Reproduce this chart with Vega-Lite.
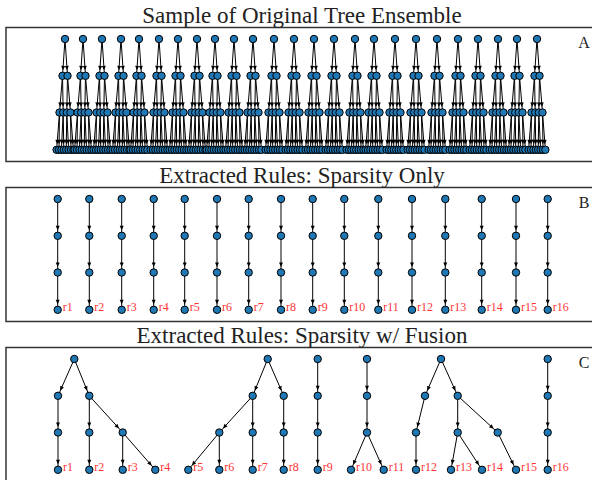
{
"$schema": "https://vega.github.io/schema/vega-lite/v6.json",
"background": "white",
"padding": {"left": 5, "top": 3.5, "right": 0, "bottom": 0},
"spacing": 1,
"config": {
  "view": {"stroke": "#333", "strokeWidth": 1.5},
  "title": {"font": "Liberation Serif", "fontSize": 23, "fontWeight": "normal", "color": "#222", "anchor": "middle"}
},
"datasets": {
"Ar": [{"x":64,"y":11.5},{"x":82,"y":11.5},{"x":101,"y":11.5},{"x":120,"y":11.5},{"x":138,"y":11.5},{"x":158,"y":11.5},{"x":177,"y":11.5},{"x":196,"y":11.5},{"x":214,"y":11.5},{"x":233,"y":11.5},{"x":252,"y":11.5},{"x":273,"y":11.5},{"x":293,"y":11.5},{"x":313,"y":11.5},{"x":333,"y":11.5},{"x":354,"y":11.5},{"x":373,"y":11.5},{"x":394,"y":11.5},{"x":415,"y":11.5},{"x":436,"y":11.5},{"x":457,"y":11.5},{"x":477,"y":11.5},{"x":497,"y":11.5},{"x":516,"y":11.5},{"x":536,"y":11.5}],
"Ae": [
{"x":64,"y":11.5,"x2":61.5,"y2":48.3},{"x":64,"y":11.5,"x2":66.5,"y2":48.3},{"x":61.5,"y":48.3,"x2":58.5,"y2":85},{"x":61.5,"y":48.3,"x2":62.2,"y2":85},{"x":66.5,"y":48.3,"x2":65.8,"y2":85},{"x":66.5,"y":48.3,"x2":69.5,"y2":85},{"x":58.5,"y":85,"x2":55.6,"y2":122.3},{"x":58.5,"y":85,"x2":58,"y2":122.3},{"x":62.2,"y":85,"x2":60.4,"y2":122.3},{"x":62.2,"y":85,"x2":62.8,"y2":122.3},{"x":65.8,"y":85,"x2":65.2,"y2":122.3},{"x":65.8,"y":85,"x2":67.6,"y2":122.3},{"x":69.5,"y":85,"x2":70,"y2":122.3},{"x":69.5,"y":85,"x2":72.4,"y2":122.3},
{"x":82,"y":11.5,"x2":79.5,"y2":48.3},{"x":82,"y":11.5,"x2":84.5,"y2":48.3},{"x":79.5,"y":48.3,"x2":76.5,"y2":85},{"x":79.5,"y":48.3,"x2":80.2,"y2":85},{"x":84.5,"y":48.3,"x2":83.8,"y2":85},{"x":84.5,"y":48.3,"x2":87.5,"y2":85},{"x":76.5,"y":85,"x2":73.6,"y2":122.3},{"x":76.5,"y":85,"x2":76,"y2":122.3},{"x":80.2,"y":85,"x2":78.4,"y2":122.3},{"x":80.2,"y":85,"x2":80.8,"y2":122.3},{"x":83.8,"y":85,"x2":83.2,"y2":122.3},{"x":83.8,"y":85,"x2":85.6,"y2":122.3},{"x":87.5,"y":85,"x2":88,"y2":122.3},{"x":87.5,"y":85,"x2":90.4,"y2":122.3},
{"x":101,"y":11.5,"x2":98.5,"y2":48.3},{"x":101,"y":11.5,"x2":103.5,"y2":48.3},{"x":98.5,"y":48.3,"x2":95.5,"y2":85},{"x":98.5,"y":48.3,"x2":99.2,"y2":85},{"x":103.5,"y":48.3,"x2":102.8,"y2":85},{"x":103.5,"y":48.3,"x2":106.5,"y2":85},{"x":95.5,"y":85,"x2":92.6,"y2":122.3},{"x":95.5,"y":85,"x2":95,"y2":122.3},{"x":99.2,"y":85,"x2":97.4,"y2":122.3},{"x":99.2,"y":85,"x2":99.8,"y2":122.3},{"x":102.8,"y":85,"x2":102.2,"y2":122.3},{"x":102.8,"y":85,"x2":104.6,"y2":122.3},{"x":106.5,"y":85,"x2":107,"y2":122.3},{"x":106.5,"y":85,"x2":109.4,"y2":122.3},
{"x":120,"y":11.5,"x2":117.5,"y2":48.3},{"x":120,"y":11.5,"x2":122.5,"y2":48.3},{"x":117.5,"y":48.3,"x2":114.5,"y2":85},{"x":117.5,"y":48.3,"x2":118.2,"y2":85},{"x":122.5,"y":48.3,"x2":121.8,"y2":85},{"x":122.5,"y":48.3,"x2":125.5,"y2":85},{"x":114.5,"y":85,"x2":111.6,"y2":122.3},{"x":114.5,"y":85,"x2":114,"y2":122.3},{"x":118.2,"y":85,"x2":116.4,"y2":122.3},{"x":118.2,"y":85,"x2":118.8,"y2":122.3},{"x":121.8,"y":85,"x2":121.2,"y2":122.3},{"x":121.8,"y":85,"x2":123.6,"y2":122.3},{"x":125.5,"y":85,"x2":126,"y2":122.3},{"x":125.5,"y":85,"x2":128.4,"y2":122.3},
{"x":138,"y":11.5,"x2":135.5,"y2":48.3},{"x":138,"y":11.5,"x2":140.5,"y2":48.3},{"x":135.5,"y":48.3,"x2":132.5,"y2":85},{"x":135.5,"y":48.3,"x2":136.2,"y2":85},{"x":140.5,"y":48.3,"x2":139.8,"y2":85},{"x":140.5,"y":48.3,"x2":143.5,"y2":85},{"x":132.5,"y":85,"x2":129.6,"y2":122.3},{"x":132.5,"y":85,"x2":132,"y2":122.3},{"x":136.2,"y":85,"x2":134.4,"y2":122.3},{"x":136.2,"y":85,"x2":136.8,"y2":122.3},{"x":139.8,"y":85,"x2":139.2,"y2":122.3},{"x":139.8,"y":85,"x2":141.6,"y2":122.3},{"x":143.5,"y":85,"x2":144,"y2":122.3},{"x":143.5,"y":85,"x2":146.4,"y2":122.3},
{"x":158,"y":11.5,"x2":155.5,"y2":48.3},{"x":158,"y":11.5,"x2":160.5,"y2":48.3},{"x":155.5,"y":48.3,"x2":152.5,"y2":85},{"x":155.5,"y":48.3,"x2":156.2,"y2":85},{"x":160.5,"y":48.3,"x2":159.8,"y2":85},{"x":160.5,"y":48.3,"x2":163.5,"y2":85},{"x":152.5,"y":85,"x2":149.6,"y2":122.3},{"x":152.5,"y":85,"x2":152,"y2":122.3},{"x":156.2,"y":85,"x2":154.4,"y2":122.3},{"x":156.2,"y":85,"x2":156.8,"y2":122.3},{"x":159.8,"y":85,"x2":159.2,"y2":122.3},{"x":159.8,"y":85,"x2":161.6,"y2":122.3},{"x":163.5,"y":85,"x2":164,"y2":122.3},{"x":163.5,"y":85,"x2":166.4,"y2":122.3},
{"x":177,"y":11.5,"x2":174.5,"y2":48.3},{"x":177,"y":11.5,"x2":179.5,"y2":48.3},{"x":174.5,"y":48.3,"x2":171.5,"y2":85},{"x":174.5,"y":48.3,"x2":175.2,"y2":85},{"x":179.5,"y":48.3,"x2":178.8,"y2":85},{"x":179.5,"y":48.3,"x2":182.5,"y2":85},{"x":171.5,"y":85,"x2":168.6,"y2":122.3},{"x":171.5,"y":85,"x2":171,"y2":122.3},{"x":175.2,"y":85,"x2":173.4,"y2":122.3},{"x":175.2,"y":85,"x2":175.8,"y2":122.3},{"x":178.8,"y":85,"x2":178.2,"y2":122.3},{"x":178.8,"y":85,"x2":180.6,"y2":122.3},{"x":182.5,"y":85,"x2":183,"y2":122.3},{"x":182.5,"y":85,"x2":185.4,"y2":122.3},
{"x":196,"y":11.5,"x2":193.5,"y2":48.3},{"x":196,"y":11.5,"x2":198.5,"y2":48.3},{"x":193.5,"y":48.3,"x2":190.5,"y2":85},{"x":193.5,"y":48.3,"x2":194.2,"y2":85},{"x":198.5,"y":48.3,"x2":197.8,"y2":85},{"x":198.5,"y":48.3,"x2":201.5,"y2":85},{"x":190.5,"y":85,"x2":187.6,"y2":122.3},{"x":190.5,"y":85,"x2":190,"y2":122.3},{"x":194.2,"y":85,"x2":192.4,"y2":122.3},{"x":194.2,"y":85,"x2":194.8,"y2":122.3},{"x":197.8,"y":85,"x2":197.2,"y2":122.3},{"x":197.8,"y":85,"x2":199.6,"y2":122.3},{"x":201.5,"y":85,"x2":202,"y2":122.3},{"x":201.5,"y":85,"x2":204.4,"y2":122.3},
{"x":214,"y":11.5,"x2":211.5,"y2":48.3},{"x":214,"y":11.5,"x2":216.5,"y2":48.3},{"x":211.5,"y":48.3,"x2":208.5,"y2":85},{"x":211.5,"y":48.3,"x2":212.2,"y2":85},{"x":216.5,"y":48.3,"x2":215.8,"y2":85},{"x":216.5,"y":48.3,"x2":219.5,"y2":85},{"x":208.5,"y":85,"x2":205.6,"y2":122.3},{"x":208.5,"y":85,"x2":208,"y2":122.3},{"x":212.2,"y":85,"x2":210.4,"y2":122.3},{"x":212.2,"y":85,"x2":212.8,"y2":122.3},{"x":215.8,"y":85,"x2":215.2,"y2":122.3},{"x":215.8,"y":85,"x2":217.6,"y2":122.3},{"x":219.5,"y":85,"x2":220,"y2":122.3},{"x":219.5,"y":85,"x2":222.4,"y2":122.3},
{"x":233,"y":11.5,"x2":230.5,"y2":48.3},{"x":233,"y":11.5,"x2":235.5,"y2":48.3},{"x":230.5,"y":48.3,"x2":227.5,"y2":85},{"x":230.5,"y":48.3,"x2":231.2,"y2":85},{"x":235.5,"y":48.3,"x2":234.8,"y2":85},{"x":235.5,"y":48.3,"x2":238.5,"y2":85},{"x":227.5,"y":85,"x2":224.6,"y2":122.3},{"x":227.5,"y":85,"x2":227,"y2":122.3},{"x":231.2,"y":85,"x2":229.4,"y2":122.3},{"x":231.2,"y":85,"x2":231.8,"y2":122.3},{"x":234.8,"y":85,"x2":234.2,"y2":122.3},{"x":234.8,"y":85,"x2":236.6,"y2":122.3},{"x":238.5,"y":85,"x2":239,"y2":122.3},{"x":238.5,"y":85,"x2":241.4,"y2":122.3},
{"x":252,"y":11.5,"x2":249.5,"y2":48.3},{"x":252,"y":11.5,"x2":254.5,"y2":48.3},{"x":249.5,"y":48.3,"x2":246.5,"y2":85},{"x":249.5,"y":48.3,"x2":250.2,"y2":85},{"x":254.5,"y":48.3,"x2":253.8,"y2":85},{"x":254.5,"y":48.3,"x2":257.5,"y2":85},{"x":246.5,"y":85,"x2":243.6,"y2":122.3},{"x":246.5,"y":85,"x2":246,"y2":122.3},{"x":250.2,"y":85,"x2":248.4,"y2":122.3},{"x":250.2,"y":85,"x2":250.8,"y2":122.3},{"x":253.8,"y":85,"x2":253.2,"y2":122.3},{"x":253.8,"y":85,"x2":255.6,"y2":122.3},{"x":257.5,"y":85,"x2":258,"y2":122.3},{"x":257.5,"y":85,"x2":260.4,"y2":122.3},
{"x":273,"y":11.5,"x2":270.5,"y2":48.3},{"x":273,"y":11.5,"x2":275.5,"y2":48.3},{"x":270.5,"y":48.3,"x2":267.5,"y2":85},{"x":270.5,"y":48.3,"x2":271.2,"y2":85},{"x":275.5,"y":48.3,"x2":274.8,"y2":85},{"x":275.5,"y":48.3,"x2":278.5,"y2":85},{"x":267.5,"y":85,"x2":264.6,"y2":122.3},{"x":267.5,"y":85,"x2":267,"y2":122.3},{"x":271.2,"y":85,"x2":269.4,"y2":122.3},{"x":271.2,"y":85,"x2":271.8,"y2":122.3},{"x":274.8,"y":85,"x2":274.2,"y2":122.3},{"x":274.8,"y":85,"x2":276.6,"y2":122.3},{"x":278.5,"y":85,"x2":279,"y2":122.3},{"x":278.5,"y":85,"x2":281.4,"y2":122.3},
{"x":293,"y":11.5,"x2":290.5,"y2":48.3},{"x":293,"y":11.5,"x2":295.5,"y2":48.3},{"x":290.5,"y":48.3,"x2":287.5,"y2":85},{"x":290.5,"y":48.3,"x2":291.2,"y2":85},{"x":295.5,"y":48.3,"x2":294.8,"y2":85},{"x":295.5,"y":48.3,"x2":298.5,"y2":85},{"x":287.5,"y":85,"x2":284.6,"y2":122.3},{"x":287.5,"y":85,"x2":287,"y2":122.3},{"x":291.2,"y":85,"x2":289.4,"y2":122.3},{"x":291.2,"y":85,"x2":291.8,"y2":122.3},{"x":294.8,"y":85,"x2":294.2,"y2":122.3},{"x":294.8,"y":85,"x2":296.6,"y2":122.3},{"x":298.5,"y":85,"x2":299,"y2":122.3},{"x":298.5,"y":85,"x2":301.4,"y2":122.3},
{"x":313,"y":11.5,"x2":310.5,"y2":48.3},{"x":313,"y":11.5,"x2":315.5,"y2":48.3},{"x":310.5,"y":48.3,"x2":307.5,"y2":85},{"x":310.5,"y":48.3,"x2":311.2,"y2":85},{"x":315.5,"y":48.3,"x2":314.8,"y2":85},{"x":315.5,"y":48.3,"x2":318.5,"y2":85},{"x":307.5,"y":85,"x2":304.6,"y2":122.3},{"x":307.5,"y":85,"x2":307,"y2":122.3},{"x":311.2,"y":85,"x2":309.4,"y2":122.3},{"x":311.2,"y":85,"x2":311.8,"y2":122.3},{"x":314.8,"y":85,"x2":314.2,"y2":122.3},{"x":314.8,"y":85,"x2":316.6,"y2":122.3},{"x":318.5,"y":85,"x2":319,"y2":122.3},{"x":318.5,"y":85,"x2":321.4,"y2":122.3},
{"x":333,"y":11.5,"x2":330.5,"y2":48.3},{"x":333,"y":11.5,"x2":335.5,"y2":48.3},{"x":330.5,"y":48.3,"x2":327.5,"y2":85},{"x":330.5,"y":48.3,"x2":331.2,"y2":85},{"x":335.5,"y":48.3,"x2":334.8,"y2":85},{"x":335.5,"y":48.3,"x2":338.5,"y2":85},{"x":327.5,"y":85,"x2":324.6,"y2":122.3},{"x":327.5,"y":85,"x2":327,"y2":122.3},{"x":331.2,"y":85,"x2":329.4,"y2":122.3},{"x":331.2,"y":85,"x2":331.8,"y2":122.3},{"x":334.8,"y":85,"x2":334.2,"y2":122.3},{"x":334.8,"y":85,"x2":336.6,"y2":122.3},{"x":338.5,"y":85,"x2":339,"y2":122.3},{"x":338.5,"y":85,"x2":341.4,"y2":122.3},
{"x":354,"y":11.5,"x2":351.5,"y2":48.3},{"x":354,"y":11.5,"x2":356.5,"y2":48.3},{"x":351.5,"y":48.3,"x2":348.5,"y2":85},{"x":351.5,"y":48.3,"x2":352.2,"y2":85},{"x":356.5,"y":48.3,"x2":355.8,"y2":85},{"x":356.5,"y":48.3,"x2":359.5,"y2":85},{"x":348.5,"y":85,"x2":345.6,"y2":122.3},{"x":348.5,"y":85,"x2":348,"y2":122.3},{"x":352.2,"y":85,"x2":350.4,"y2":122.3},{"x":352.2,"y":85,"x2":352.8,"y2":122.3},{"x":355.8,"y":85,"x2":355.2,"y2":122.3},{"x":355.8,"y":85,"x2":357.6,"y2":122.3},{"x":359.5,"y":85,"x2":360,"y2":122.3},{"x":359.5,"y":85,"x2":362.4,"y2":122.3},
{"x":373,"y":11.5,"x2":370.5,"y2":48.3},{"x":373,"y":11.5,"x2":375.5,"y2":48.3},{"x":370.5,"y":48.3,"x2":367.5,"y2":85},{"x":370.5,"y":48.3,"x2":371.2,"y2":85},{"x":375.5,"y":48.3,"x2":374.8,"y2":85},{"x":375.5,"y":48.3,"x2":378.5,"y2":85},{"x":367.5,"y":85,"x2":364.6,"y2":122.3},{"x":367.5,"y":85,"x2":367,"y2":122.3},{"x":371.2,"y":85,"x2":369.4,"y2":122.3},{"x":371.2,"y":85,"x2":371.8,"y2":122.3},{"x":374.8,"y":85,"x2":374.2,"y2":122.3},{"x":374.8,"y":85,"x2":376.6,"y2":122.3},{"x":378.5,"y":85,"x2":379,"y2":122.3},{"x":378.5,"y":85,"x2":381.4,"y2":122.3},
{"x":394,"y":11.5,"x2":391.5,"y2":48.3},{"x":394,"y":11.5,"x2":396.5,"y2":48.3},{"x":391.5,"y":48.3,"x2":388.5,"y2":85},{"x":391.5,"y":48.3,"x2":392.2,"y2":85},{"x":396.5,"y":48.3,"x2":395.8,"y2":85},{"x":396.5,"y":48.3,"x2":399.5,"y2":85},{"x":388.5,"y":85,"x2":385.6,"y2":122.3},{"x":388.5,"y":85,"x2":388,"y2":122.3},{"x":392.2,"y":85,"x2":390.4,"y2":122.3},{"x":392.2,"y":85,"x2":392.8,"y2":122.3},{"x":395.8,"y":85,"x2":395.2,"y2":122.3},{"x":395.8,"y":85,"x2":397.6,"y2":122.3},{"x":399.5,"y":85,"x2":400,"y2":122.3},{"x":399.5,"y":85,"x2":402.4,"y2":122.3},
{"x":415,"y":11.5,"x2":412.5,"y2":48.3},{"x":415,"y":11.5,"x2":417.5,"y2":48.3},{"x":412.5,"y":48.3,"x2":409.5,"y2":85},{"x":412.5,"y":48.3,"x2":413.2,"y2":85},{"x":417.5,"y":48.3,"x2":416.8,"y2":85},{"x":417.5,"y":48.3,"x2":420.5,"y2":85},{"x":409.5,"y":85,"x2":406.6,"y2":122.3},{"x":409.5,"y":85,"x2":409,"y2":122.3},{"x":413.2,"y":85,"x2":411.4,"y2":122.3},{"x":413.2,"y":85,"x2":413.8,"y2":122.3},{"x":416.8,"y":85,"x2":416.2,"y2":122.3},{"x":416.8,"y":85,"x2":418.6,"y2":122.3},{"x":420.5,"y":85,"x2":421,"y2":122.3},{"x":420.5,"y":85,"x2":423.4,"y2":122.3},
{"x":436,"y":11.5,"x2":433.5,"y2":48.3},{"x":436,"y":11.5,"x2":438.5,"y2":48.3},{"x":433.5,"y":48.3,"x2":430.5,"y2":85},{"x":433.5,"y":48.3,"x2":434.2,"y2":85},{"x":438.5,"y":48.3,"x2":437.8,"y2":85},{"x":438.5,"y":48.3,"x2":441.5,"y2":85},{"x":430.5,"y":85,"x2":427.6,"y2":122.3},{"x":430.5,"y":85,"x2":430,"y2":122.3},{"x":434.2,"y":85,"x2":432.4,"y2":122.3},{"x":434.2,"y":85,"x2":434.8,"y2":122.3},{"x":437.8,"y":85,"x2":437.2,"y2":122.3},{"x":437.8,"y":85,"x2":439.6,"y2":122.3},{"x":441.5,"y":85,"x2":442,"y2":122.3},{"x":441.5,"y":85,"x2":444.4,"y2":122.3},
{"x":457,"y":11.5,"x2":454.5,"y2":48.3},{"x":457,"y":11.5,"x2":459.5,"y2":48.3},{"x":454.5,"y":48.3,"x2":451.5,"y2":85},{"x":454.5,"y":48.3,"x2":455.2,"y2":85},{"x":459.5,"y":48.3,"x2":458.8,"y2":85},{"x":459.5,"y":48.3,"x2":462.5,"y2":85},{"x":451.5,"y":85,"x2":448.6,"y2":122.3},{"x":451.5,"y":85,"x2":451,"y2":122.3},{"x":455.2,"y":85,"x2":453.4,"y2":122.3},{"x":455.2,"y":85,"x2":455.8,"y2":122.3},{"x":458.8,"y":85,"x2":458.2,"y2":122.3},{"x":458.8,"y":85,"x2":460.6,"y2":122.3},{"x":462.5,"y":85,"x2":463,"y2":122.3},{"x":462.5,"y":85,"x2":465.4,"y2":122.3},
{"x":477,"y":11.5,"x2":474.5,"y2":48.3},{"x":477,"y":11.5,"x2":479.5,"y2":48.3},{"x":474.5,"y":48.3,"x2":471.5,"y2":85},{"x":474.5,"y":48.3,"x2":475.2,"y2":85},{"x":479.5,"y":48.3,"x2":478.8,"y2":85},{"x":479.5,"y":48.3,"x2":482.5,"y2":85},{"x":471.5,"y":85,"x2":468.6,"y2":122.3},{"x":471.5,"y":85,"x2":471,"y2":122.3},{"x":475.2,"y":85,"x2":473.4,"y2":122.3},{"x":475.2,"y":85,"x2":475.8,"y2":122.3},{"x":478.8,"y":85,"x2":478.2,"y2":122.3},{"x":478.8,"y":85,"x2":480.6,"y2":122.3},{"x":482.5,"y":85,"x2":483,"y2":122.3},{"x":482.5,"y":85,"x2":485.4,"y2":122.3},
{"x":497,"y":11.5,"x2":494.5,"y2":48.3},{"x":497,"y":11.5,"x2":499.5,"y2":48.3},{"x":494.5,"y":48.3,"x2":491.5,"y2":85},{"x":494.5,"y":48.3,"x2":495.2,"y2":85},{"x":499.5,"y":48.3,"x2":498.8,"y2":85},{"x":499.5,"y":48.3,"x2":502.5,"y2":85},{"x":491.5,"y":85,"x2":488.6,"y2":122.3},{"x":491.5,"y":85,"x2":491,"y2":122.3},{"x":495.2,"y":85,"x2":493.4,"y2":122.3},{"x":495.2,"y":85,"x2":495.8,"y2":122.3},{"x":498.8,"y":85,"x2":498.2,"y2":122.3},{"x":498.8,"y":85,"x2":500.6,"y2":122.3},{"x":502.5,"y":85,"x2":503,"y2":122.3},{"x":502.5,"y":85,"x2":505.4,"y2":122.3},
{"x":516,"y":11.5,"x2":513.5,"y2":48.3},{"x":516,"y":11.5,"x2":518.5,"y2":48.3},{"x":513.5,"y":48.3,"x2":510.5,"y2":85},{"x":513.5,"y":48.3,"x2":514.2,"y2":85},{"x":518.5,"y":48.3,"x2":517.8,"y2":85},{"x":518.5,"y":48.3,"x2":521.5,"y2":85},{"x":510.5,"y":85,"x2":507.6,"y2":122.3},{"x":510.5,"y":85,"x2":510,"y2":122.3},{"x":514.2,"y":85,"x2":512.4,"y2":122.3},{"x":514.2,"y":85,"x2":514.8,"y2":122.3},{"x":517.8,"y":85,"x2":517.2,"y2":122.3},{"x":517.8,"y":85,"x2":519.6,"y2":122.3},{"x":521.5,"y":85,"x2":522,"y2":122.3},{"x":521.5,"y":85,"x2":524.4,"y2":122.3},
{"x":536,"y":11.5,"x2":533.5,"y2":48.3},{"x":536,"y":11.5,"x2":538.5,"y2":48.3},{"x":533.5,"y":48.3,"x2":530.5,"y2":85},{"x":533.5,"y":48.3,"x2":534.2,"y2":85},{"x":538.5,"y":48.3,"x2":537.8,"y2":85},{"x":538.5,"y":48.3,"x2":541.5,"y2":85},{"x":530.5,"y":85,"x2":527.6,"y2":122.3},{"x":530.5,"y":85,"x2":530,"y2":122.3},{"x":534.2,"y":85,"x2":532.4,"y2":122.3},{"x":534.2,"y":85,"x2":534.8,"y2":122.3},{"x":537.8,"y":85,"x2":537.2,"y2":122.3},{"x":537.8,"y":85,"x2":539.6,"y2":122.3},{"x":541.5,"y":85,"x2":542,"y2":122.3},{"x":541.5,"y":85,"x2":544.4,"y2":122.3}
],
"Br": [{"x":56.7,"y":11.5},{"x":88.3,"y":11.5},{"x":120.7,"y":11.5},{"x":152.7,"y":11.5},{"x":183.7,"y":11.5},{"x":216,"y":11.5},{"x":247.7,"y":11.5},{"x":280,"y":11.5},{"x":311.7,"y":11.5},{"x":343.3,"y":11.5},{"x":377.3,"y":11.5},{"x":411,"y":11.5},{"x":444.3,"y":11.5},{"x":480.7,"y":11.5},{"x":515,"y":11.5},{"x":546.7,"y":11.5}],
"Be": [
{"x":56.7,"y":11.5,"x2":56.7,"y2":48.3},{"x":56.7,"y":48.3,"x2":56.7,"y2":85},{"x":56.7,"y":85,"x2":56.7,"y2":122.3,"t":"r1"},
{"x":88.3,"y":11.5,"x2":88.3,"y2":48.3},{"x":88.3,"y":48.3,"x2":88.3,"y2":85},{"x":88.3,"y":85,"x2":88.3,"y2":122.3,"t":"r2"},
{"x":120.7,"y":11.5,"x2":120.7,"y2":48.3},{"x":120.7,"y":48.3,"x2":120.7,"y2":85},{"x":120.7,"y":85,"x2":120.7,"y2":122.3,"t":"r3"},
{"x":152.7,"y":11.5,"x2":152.7,"y2":48.3},{"x":152.7,"y":48.3,"x2":152.7,"y2":85},{"x":152.7,"y":85,"x2":152.7,"y2":122.3,"t":"r4"},
{"x":183.7,"y":11.5,"x2":183.7,"y2":48.3},{"x":183.7,"y":48.3,"x2":183.7,"y2":85},{"x":183.7,"y":85,"x2":183.7,"y2":122.3,"t":"r5"},
{"x":216,"y":11.5,"x2":216,"y2":48.3},{"x":216,"y":48.3,"x2":216,"y2":85},{"x":216,"y":85,"x2":216,"y2":122.3,"t":"r6"},
{"x":247.7,"y":11.5,"x2":247.7,"y2":48.3},{"x":247.7,"y":48.3,"x2":247.7,"y2":85},{"x":247.7,"y":85,"x2":247.7,"y2":122.3,"t":"r7"},
{"x":280,"y":11.5,"x2":280,"y2":48.3},{"x":280,"y":48.3,"x2":280,"y2":85},{"x":280,"y":85,"x2":280,"y2":122.3,"t":"r8"},
{"x":311.7,"y":11.5,"x2":311.7,"y2":48.3},{"x":311.7,"y":48.3,"x2":311.7,"y2":85},{"x":311.7,"y":85,"x2":311.7,"y2":122.3,"t":"r9"},
{"x":343.3,"y":11.5,"x2":343.3,"y2":48.3},{"x":343.3,"y":48.3,"x2":343.3,"y2":85},{"x":343.3,"y":85,"x2":343.3,"y2":122.3,"t":"r10"},
{"x":377.3,"y":11.5,"x2":377.3,"y2":48.3},{"x":377.3,"y":48.3,"x2":377.3,"y2":85},{"x":377.3,"y":85,"x2":377.3,"y2":122.3,"t":"r11"},
{"x":411,"y":11.5,"x2":411,"y2":48.3},{"x":411,"y":48.3,"x2":411,"y2":85},{"x":411,"y":85,"x2":411,"y2":122.3,"t":"r12"},
{"x":444.3,"y":11.5,"x2":444.3,"y2":48.3},{"x":444.3,"y":48.3,"x2":444.3,"y2":85},{"x":444.3,"y":85,"x2":444.3,"y2":122.3,"t":"r13"},
{"x":480.7,"y":11.5,"x2":480.7,"y2":48.3},{"x":480.7,"y":48.3,"x2":480.7,"y2":85},{"x":480.7,"y":85,"x2":480.7,"y2":122.3,"t":"r14"},
{"x":515,"y":11.5,"x2":515,"y2":48.3},{"x":515,"y":48.3,"x2":515,"y2":85},{"x":515,"y":85,"x2":515,"y2":122.3,"t":"r15"},
{"x":546.7,"y":11.5,"x2":546.7,"y2":48.3},{"x":546.7,"y":48.3,"x2":546.7,"y2":85},{"x":546.7,"y":85,"x2":546.7,"y2":122.3,"t":"r16"}
],
"Cr": [{"x":73.3,"y":11.5},{"x":266.7,"y":11.5},{"x":316.7,"y":11.5},{"x":366,"y":11.5},{"x":440,"y":11.5},{"x":546.7,"y":11.5}],
"Ce": [
{"x":73.3,"y":11.5,"x2":57,"y2":48.3},{"x":73.3,"y":11.5,"x2":88.3,"y2":48.3},{"x":57,"y":48.3,"x2":57,"y2":85},{"x":88.3,"y":48.3,"x2":88.3,"y2":85},{"x":88.3,"y":48.3,"x2":121.7,"y2":85},
{"x":57,"y":85,"x2":57,"y2":122.3,"t":"r1"},{"x":88.3,"y":85,"x2":88.3,"y2":122.3,"t":"r2"},{"x":121.7,"y":85,"x2":121.7,"y2":122.3,"t":"r3"},{"x":121.7,"y":85,"x2":154.3,"y2":122.3,"t":"r4"},
{"x":266.7,"y":11.5,"x2":251.7,"y2":48.3},{"x":266.7,"y":11.5,"x2":282.7,"y2":48.3},{"x":251.7,"y":48.3,"x2":218.3,"y2":85},{"x":251.7,"y":48.3,"x2":251.7,"y2":85},{"x":282.7,"y":48.3,"x2":282.7,"y2":85},
{"x":218.3,"y":85,"x2":187.3,"y2":122.3,"t":"r5"},{"x":218.3,"y":85,"x2":218.3,"y2":122.3,"t":"r6"},{"x":251.7,"y":85,"x2":251.7,"y2":122.3,"t":"r7"},{"x":282.7,"y":85,"x2":282.7,"y2":122.3,"t":"r8"},
{"x":316.7,"y":11.5,"x2":316.7,"y2":48.3},{"x":316.7,"y":48.3,"x2":316.7,"y2":85},{"x":316.7,"y":85,"x2":316.7,"y2":122.3,"t":"r9"},
{"x":366,"y":11.5,"x2":366,"y2":48.3},{"x":366,"y":48.3,"x2":366,"y2":85},{"x":366,"y":85,"x2":350,"y2":122.3,"t":"r10"},{"x":366,"y":85,"x2":382.7,"y2":122.3,"t":"r11"},
{"x":440,"y":11.5,"x2":424,"y2":48.3},{"x":440,"y":11.5,"x2":456.7,"y2":48.3},{"x":424,"y":48.3,"x2":415,"y2":85},{"x":456.7,"y":48.3,"x2":456.7,"y2":85},{"x":456.7,"y":48.3,"x2":496.7,"y2":85},
{"x":415,"y":85,"x2":415,"y2":122.3,"t":"r12"},{"x":456.7,"y":85,"x2":450,"y2":122.3,"t":"r13"},{"x":456.7,"y":85,"x2":481,"y2":122.3,"t":"r14"},{"x":496.7,"y":85,"x2":515,"y2":122.3,"t":"r15"},
{"x":546.7,"y":11.5,"x2":546.7,"y2":48.3},{"x":546.7,"y":48.3,"x2":546.7,"y2":85},{"x":546.7,"y":85,"x2":546.7,"y2":122.3,"t":"r16"}
]
},
"vconcat": [
{
"title": {"text": "Sample of Original Tree Ensemble", "offset": 0},
"width": 592, "height": 134,
"layer": [
 {"data": {"name": "Ae"}, "mark": {"type": "rule", "color": "black", "strokeWidth": 1},
  "encoding": {"x": {"field": "x", "type": "quantitative", "scale": {"domain": [5, 597], "nice": false, "zero": false}, "axis": null},
   "y": {"field": "y", "type": "quantitative", "scale": {"domain": [0, 134], "nice": false, "zero": false, "reverse": true}, "axis": null},
   "x2": {"field": "x2"}, "y2": {"field": "y2"}}},
 {"data": {"name": "Ae"}, "transform": [{"calculate": "atan2(datum.x - datum.x2, datum.y2 - datum.y) * 180 / PI", "as": "ang"}],
  "mark": {"type": "point", "shape": "M-0.2,-1L0.2,-1L0,-0.55Z", "size": 400, "filled": true, "color": "black", "opacity": 1},
  "encoding": {"x": {"field": "x2", "type": "quantitative", "scale": {"domain": [5, 597], "nice": false, "zero": false}, "axis": null},
   "y": {"field": "y2", "type": "quantitative", "scale": {"domain": [0, 134], "nice": false, "zero": false, "reverse": true}, "axis": null},
   "angle": {"field": "ang", "type": "quantitative", "scale": null}}},
 {"data": {"name": "Ae"}, "mark": {"type": "point", "filled": true, "fill": "#1f77b4", "stroke": "black", "strokeWidth": 1, "size": 55, "opacity": 1},
  "encoding": {"x": {"field": "x2", "type": "quantitative", "scale": {"domain": [5, 597], "nice": false, "zero": false}, "axis": null},
   "y": {"field": "y2", "type": "quantitative", "scale": {"domain": [0, 134], "nice": false, "zero": false, "reverse": true}, "axis": null}}},
 {"data": {"name": "Ar"}, "mark": {"type": "point", "filled": true, "fill": "#1f77b4", "stroke": "black", "strokeWidth": 1, "size": 55, "opacity": 1},
  "encoding": {"x": {"field": "x", "type": "quantitative", "scale": {"domain": [5, 597], "nice": false, "zero": false}, "axis": null},
   "y": {"field": "y", "type": "quantitative", "scale": {"domain": [0, 134], "nice": false, "zero": false, "reverse": true}, "axis": null}}},
 {"data": {"values": [{"x": 583, "y": 15.5, "t": "A"}]}, "mark": {"type": "text", "font": "Liberation Serif", "fontSize": 16, "color": "#222", "align": "center", "baseline": "middle"},
  "encoding": {"x": {"field": "x", "type": "quantitative", "scale": {"domain": [5, 597], "nice": false, "zero": false}, "axis": null},
   "y": {"field": "y", "type": "quantitative", "scale": {"domain": [0, 134], "nice": false, "zero": false, "reverse": true}, "axis": null},
   "text": {"field": "t"}}}
]
},
{
"title": {"text": "Extracted Rules: Sparsity Only", "offset": 0},
"width": 592, "height": 134,
"layer": [
 {"data": {"name": "Be"}, "mark": {"type": "rule", "color": "black", "strokeWidth": 1},
  "encoding": {"x": {"field": "x", "type": "quantitative", "scale": {"domain": [5, 597], "nice": false, "zero": false}, "axis": null},
   "y": {"field": "y", "type": "quantitative", "scale": {"domain": [0, 134], "nice": false, "zero": false, "reverse": true}, "axis": null},
   "x2": {"field": "x2"}, "y2": {"field": "y2"}}},
 {"data": {"name": "Be"}, "transform": [{"calculate": "atan2(datum.x - datum.x2, datum.y2 - datum.y) * 180 / PI", "as": "ang"}],
  "mark": {"type": "point", "shape": "M-0.2,-1L0.2,-1L0,-0.55Z", "size": 400, "filled": true, "color": "black", "opacity": 1},
  "encoding": {"x": {"field": "x2", "type": "quantitative", "scale": {"domain": [5, 597], "nice": false, "zero": false}, "axis": null},
   "y": {"field": "y2", "type": "quantitative", "scale": {"domain": [0, 134], "nice": false, "zero": false, "reverse": true}, "axis": null},
   "angle": {"field": "ang", "type": "quantitative", "scale": null}}},
 {"data": {"name": "Be"}, "mark": {"type": "point", "filled": true, "fill": "#1f77b4", "stroke": "black", "strokeWidth": 1, "size": 55, "opacity": 1},
  "encoding": {"x": {"field": "x2", "type": "quantitative", "scale": {"domain": [5, 597], "nice": false, "zero": false}, "axis": null},
   "y": {"field": "y2", "type": "quantitative", "scale": {"domain": [0, 134], "nice": false, "zero": false, "reverse": true}, "axis": null}}},
 {"data": {"name": "Br"}, "mark": {"type": "point", "filled": true, "fill": "#1f77b4", "stroke": "black", "strokeWidth": 1, "size": 55, "opacity": 1},
  "encoding": {"x": {"field": "x", "type": "quantitative", "scale": {"domain": [5, 597], "nice": false, "zero": false}, "axis": null},
   "y": {"field": "y", "type": "quantitative", "scale": {"domain": [0, 134], "nice": false, "zero": false, "reverse": true}, "axis": null}}},
 {"data": {"name": "Be"}, "transform": [{"filter": "datum.t"}], "mark": {"type": "text", "font": "Liberation Serif", "fontSize": 12, "color": "#ff3333", "align": "left", "baseline": "middle", "dx": 5, "dy": -3},
  "encoding": {"x": {"field": "x2", "type": "quantitative", "scale": {"domain": [5, 597], "nice": false, "zero": false}, "axis": null},
   "y": {"field": "y2", "type": "quantitative", "scale": {"domain": [0, 134], "nice": false, "zero": false, "reverse": true}, "axis": null},
   "text": {"field": "t"}}},
 {"data": {"values": [{"x": 583, "y": 15.5, "t": "B"}]}, "mark": {"type": "text", "font": "Liberation Serif", "fontSize": 16, "color": "#222", "align": "center", "baseline": "middle"},
  "encoding": {"x": {"field": "x", "type": "quantitative", "scale": {"domain": [5, 597], "nice": false, "zero": false}, "axis": null},
   "y": {"field": "y", "type": "quantitative", "scale": {"domain": [0, 134], "nice": false, "zero": false, "reverse": true}, "axis": null},
   "text": {"field": "t"}}}
]
},
{
"title": {"text": "Extracted Rules: Sparsity w/ Fusion", "offset": 0},
"width": 592, "height": 134,
"layer": [
 {"data": {"name": "Ce"}, "mark": {"type": "rule", "color": "black", "strokeWidth": 1},
  "encoding": {"x": {"field": "x", "type": "quantitative", "scale": {"domain": [5, 597], "nice": false, "zero": false}, "axis": null},
   "y": {"field": "y", "type": "quantitative", "scale": {"domain": [0, 134], "nice": false, "zero": false, "reverse": true}, "axis": null},
   "x2": {"field": "x2"}, "y2": {"field": "y2"}}},
 {"data": {"name": "Ce"}, "transform": [{"calculate": "atan2(datum.x - datum.x2, datum.y2 - datum.y) * 180 / PI", "as": "ang"}],
  "mark": {"type": "point", "shape": "M-0.2,-1L0.2,-1L0,-0.55Z", "size": 400, "filled": true, "color": "black", "opacity": 1},
  "encoding": {"x": {"field": "x2", "type": "quantitative", "scale": {"domain": [5, 597], "nice": false, "zero": false}, "axis": null},
   "y": {"field": "y2", "type": "quantitative", "scale": {"domain": [0, 134], "nice": false, "zero": false, "reverse": true}, "axis": null},
   "angle": {"field": "ang", "type": "quantitative", "scale": null}}},
 {"data": {"name": "Ce"}, "mark": {"type": "point", "filled": true, "fill": "#1f77b4", "stroke": "black", "strokeWidth": 1, "size": 55, "opacity": 1},
  "encoding": {"x": {"field": "x2", "type": "quantitative", "scale": {"domain": [5, 597], "nice": false, "zero": false}, "axis": null},
   "y": {"field": "y2", "type": "quantitative", "scale": {"domain": [0, 134], "nice": false, "zero": false, "reverse": true}, "axis": null}}},
 {"data": {"name": "Cr"}, "mark": {"type": "point", "filled": true, "fill": "#1f77b4", "stroke": "black", "strokeWidth": 1, "size": 55, "opacity": 1},
  "encoding": {"x": {"field": "x", "type": "quantitative", "scale": {"domain": [5, 597], "nice": false, "zero": false}, "axis": null},
   "y": {"field": "y", "type": "quantitative", "scale": {"domain": [0, 134], "nice": false, "zero": false, "reverse": true}, "axis": null}}},
 {"data": {"name": "Ce"}, "transform": [{"filter": "datum.t"}], "mark": {"type": "text", "font": "Liberation Serif", "fontSize": 12, "color": "#ff3333", "align": "left", "baseline": "middle", "dx": 5, "dy": -3},
  "encoding": {"x": {"field": "x2", "type": "quantitative", "scale": {"domain": [5, 597], "nice": false, "zero": false}, "axis": null},
   "y": {"field": "y2", "type": "quantitative", "scale": {"domain": [0, 134], "nice": false, "zero": false, "reverse": true}, "axis": null},
   "text": {"field": "t"}}},
 {"data": {"values": [{"x": 583, "y": 15.5, "t": "C"}]}, "mark": {"type": "text", "font": "Liberation Serif", "fontSize": 16, "color": "#222", "align": "center", "baseline": "middle"},
  "encoding": {"x": {"field": "x", "type": "quantitative", "scale": {"domain": [5, 597], "nice": false, "zero": false}, "axis": null},
   "y": {"field": "y", "type": "quantitative", "scale": {"domain": [0, 134], "nice": false, "zero": false, "reverse": true}, "axis": null},
   "text": {"field": "t"}}}
]
}
]
}
